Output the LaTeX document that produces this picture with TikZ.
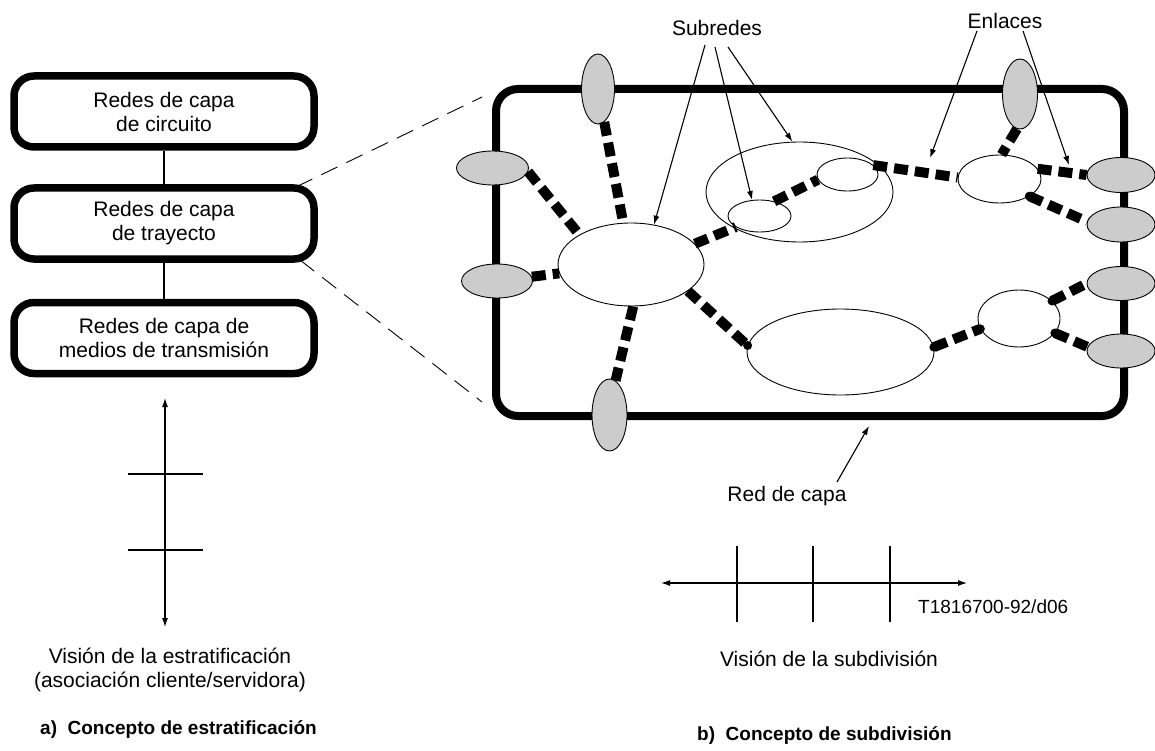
\documentclass[tikz,border=0pt]{standalone}
\usepackage{fontspec}
\setmainfont{Liberation Sans}
\usetikzlibrary{shapes.geometric,arrows.meta}
\begin{document}
\begin{tikzpicture}[x=1pt,y=-1pt,
  txt/.style={font=\fontsize{21}{24}\selectfont, inner sep=0pt, align=center},
  caption/.style={font=\fontsize{19}{23}\selectfont\bfseries, inner sep=0pt, anchor=west},
  layerbox/.style={draw, line width=7.5pt, rounded corners=20pt, minimum width=300pt,
    minimum height=71pt, inner sep=0pt, align=center, font=\fontsize{21}{24}\selectfont},
  frame/.style={draw, line width=8pt, rounded corners=22pt, inner sep=0pt},
  hole/.style={ellipse, draw, line width=0.9pt, fill=white, inner sep=0pt},
  ring/.style={ellipse, draw, line width=0.9pt, inner sep=0pt},
  port/.style={ellipse, draw, line width=0.9pt, fill=black!20, inner sep=0pt},
  link/.style={line width=10pt, dash pattern=on 14pt off 7pt},
  guide/.style={line width=0.9pt, dash pattern=on 18pt off 10pt},
  thin/.style={line width=1.1pt},
  tip/.style={thin, -{Latex[length=9pt,width=6pt]}},
  twotip/.style={thin, {Latex[length=9pt,width=6pt]}-{Latex[length=9pt,width=6pt]}},
  endpt/.style={fill=black}
]
\useasboundingbox (0,0) rectangle (1155,751);

% ---- a) layering: stack of layer networks
\node[layerbox] (circ) at (164,111.5) {Redes de capa\\de circuito};
\node[layerbox] (tray) at (164,223.5) {Redes de capa\\de trayecto};
\node[layerbox] (medio) at (164,338) {Redes de capa de\\medios de transmisi\'on};
\draw[thin] (circ) -- (tray);
\draw[thin] (tray) -- (medio);

% layering axis
\coordinate (vtop) at (165,398);
\coordinate (vbot) at (165,627);
\draw[twotip] (vtop) -- (vbot);
\coordinate (t1a) at (128,474); \coordinate (t1b) at (203,474);
\coordinate (t2a) at (128,550); \coordinate (t2b) at (203,550);
\draw[thin] (t1a) -- (t1b);
\draw[thin] (t2a) -- (t2b);

\node[txt] (vistaA) at (170,670) {Visi\'on de la estratificaci\'on\\(asociaci\'on cliente/servidora)};
\node[caption] (capA) at (40,729) {a)\ \ Concepto de estratificaci\'on};

% ---- b) partitioning: the layer network
\node[frame, minimum width=628pt, minimum height=327pt] (net) at (810,252.5) {};

% zoom guides from the path layer box to the layer network
\coordinate (g1a) at (296,187); \coordinate (g1b) at (482,97);
\coordinate (g2a) at (300,260); \coordinate (g2b) at (482,402);
\draw[guide] (g1a) -- (g1b);
\draw[guide] (g2a) -- (g2b);

% outer subnetwork grouping
\node[ring, minimum width=187pt, minimum height=100pt] (grp) at (799.5,192) {};

% subnetworks
\node[hole, minimum width=146pt, minimum height=83pt] (A) at (631,264.5) {};
\node[hole, minimum width=63pt, minimum height=32pt] (B1) at (759.5,216) {};
\node[hole, minimum width=61pt, minimum height=33pt] (B2) at (847.5,174.5) {};
\node[hole, minimum width=83pt, minimum height=48pt] (C) at (999.5,179) {};
\node[hole, minimum width=187pt, minimum height=86pt] (D) at (840.5,352) {};
\node[hole, minimum width=82pt, minimum height=57pt] (E) at (1019,318.5) {};

% access points on the network boundary
\node[port, minimum width=33pt, minimum height=70pt] (Pt1) at (598,89) {};
\node[port, minimum width=35pt, minimum height=70pt] (Pt2) at (1020,94) {};
\node[port, minimum width=72pt, minimum height=34pt] (Pl1) at (492.5,168) {};
\node[port, minimum width=71pt, minimum height=34pt] (Pl2) at (497,281) {};
\node[port, minimum width=35pt, minimum height=72pt] (Pb) at (609.5,415) {};
\node[port, minimum width=68pt, minimum height=35pt] (R1) at (1121,175) {};
\node[port, minimum width=68pt, minimum height=35pt] (R2) at (1121,224.5) {};
\node[port, minimum width=68pt, minimum height=34pt] (R3) at (1121,283.5) {};
\node[port, minimum width=68pt, minimum height=34pt] (R4) at (1121,351) {};

% links
\draw[link] (Pt1) -- (A);
\draw[link] (Pl1.-6) -- (A.150);
\draw[link] (Pl2) -- (A);
\draw[link] (A.18) -- (B1.205);
\draw[link] (B1.45) -- (B2.190);
\draw[link] (B2.20) -- (C.178);
\draw[link] (Pt2.-95) -- (C.85);
\draw[link] (C.15) -- (R1.180);
\draw[link] (C.-30) -- (R2.175);
\draw[link] (A.-25) -- (D.176);
\draw[link] (A.-87) -- (Pb.80);
\draw[link] (D.3) -- (E.195);
\draw[link] (E.28) -- (R3.180);
\draw[link] (E.-22) -- (R4.173);

% joint dots at link ends
\fill[endpt] (D.176) circle (4.5);
\fill[endpt] (D.3) circle (4.5);
\fill[endpt] (E.195) circle (4.5);
\fill[endpt] (E.28) circle (4.5);
\fill[endpt] (E.-22) circle (4.5);
\fill[endpt] (C.-30) circle (4.5);

% labels and pointers
\node[txt] (subredes) at (717,28) {Subredes};
\draw[tip] (705,45) -- (A.60);
\draw[tip] (715,47) -- (B1.115);
\draw[tip] (728,47) -- (grp.98);

\node[txt] (enlaces) at (1005,21) {Enlaces};
\coordinate (lk1) at (930,158);
\coordinate (lk2) at (1069,165);
\draw[tip] (977,31) -- (lk1);
\draw[tip] (1023,31) -- (lk2);

\node[txt] (redcapa) at (787,496) {Red de capa};
\coordinate (netb) at (869,426);
\draw[tip] (837,482) -- (netb);

% partitioning axis
\coordinate (hl) at (661,583);
\coordinate (hr) at (967,583);
\draw[twotip] (hl) -- (hr);
\foreach \x [count=\i] in {737,813,890} {
  \coordinate (pa\i) at (\x,546);
  \coordinate (pb\i) at (\x,622);
  \draw[thin] (pa\i) -- (pb\i);
}
\node[font=\fontsize{19}{22}\selectfont, inner sep=0pt, anchor=west] (ref) at (918,607) {T1816700-92/d06};

\node[txt] (vistaB) at (829,659) {Visi\'on de la subdivisi\'on};
\node[caption] (capB) at (697,735) {b)\ \ Concepto de subdivisi\'on};
\end{tikzpicture}
\end{document}
